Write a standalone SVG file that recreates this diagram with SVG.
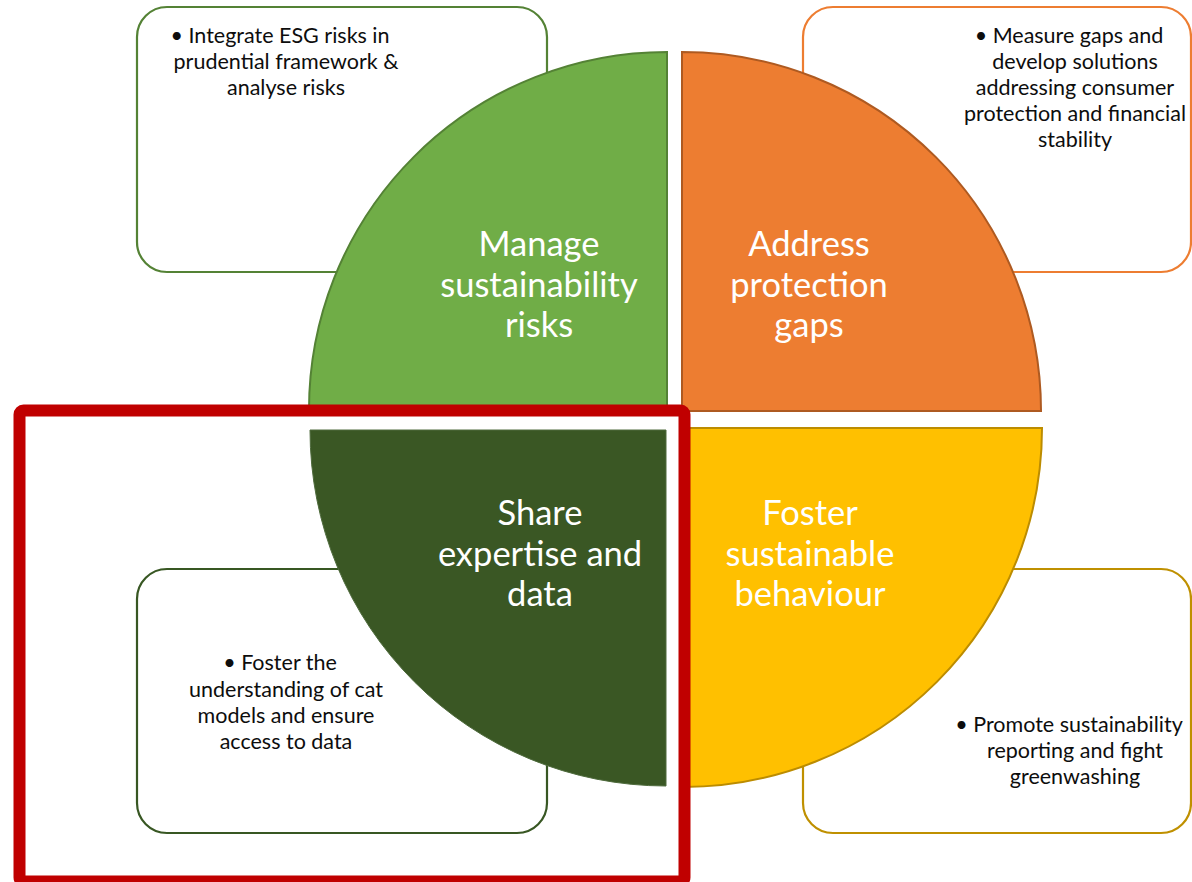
<svg xmlns="http://www.w3.org/2000/svg" width="1192" height="882" viewBox="0 0 1192 882">
  <style>
    .box { fill: #ffffff; stroke-width: 2.2; }
    .note { font-family: Lato, "Liberation Sans", sans-serif; font-size: 21.5px; fill: #0d0d0d; text-anchor: middle; }
    .label { font-family: Lato, "Liberation Sans", sans-serif; font-size: 34.5px; fill: #ffffff; text-anchor: middle; }
    .quad { stroke-width: 2; }
  </style>
  <rect width="1192" height="882" fill="#ffffff"/>

  <!-- Detail boxes (behind the wheel) -->
  <g id="box-risks">
    <rect class="box" x="137" y="7" width="410" height="265" rx="30" stroke="#548235"/>
    <text class="note"><tspan x="280" y="43">• Integrate ESG risks in</tspan><tspan x="286" y="69">prudential framework &amp;</tspan><tspan x="286" y="95">analyse risks</tspan></text>
  </g>
  <g id="box-gaps">
    <rect class="box" x="803" y="7" width="388" height="265" rx="30" stroke="#ed7d31"/>
    <text class="note"><tspan x="1069" y="43">• Measure gaps and</tspan><tspan x="1075" y="69">develop solutions</tspan><tspan x="1075" y="95">addressing consumer</tspan><tspan x="1075" y="121">protection and financial</tspan><tspan x="1075" y="147">stability</tspan></text>
  </g>
  <g id="box-data">
    <rect class="box" x="137" y="569" width="410" height="264" rx="30" stroke="#385723"/>
    <text class="note"><tspan x="280" y="670">• Foster the</tspan><tspan x="286" y="697">understanding of cat</tspan><tspan x="286" y="723">models and ensure</tspan><tspan x="286" y="749">access to data</tspan></text>
  </g>
  <g id="box-behaviour">
    <rect class="box" x="803" y="569" width="388" height="264" rx="30" stroke="#bf9000"/>
    <text class="note"><tspan x="1069" y="732">• Promote sustainability</tspan><tspan x="1075" y="758">reporting and fight</tspan><tspan x="1075" y="784">greenwashing</tspan></text>
  </g>

  <!-- Wheel quadrants -->
  <g id="q-manage">
    <path class="quad" d="M667,410 L309,410 A358,358 0 0 1 667,52 Z" fill="#70ad47" stroke="#548235"/>
    <text class="label"><tspan x="539" y="256">Manage</tspan><tspan x="539" y="297">sustainability</tspan><tspan x="539" y="337">risks</tspan></text>
  </g>
  <g id="q-address">
    <path class="quad" d="M682,411 L682,52 A359,359 0 0 1 1041,411 Z" fill="#ed7d31" stroke="#ae5a21"/>
    <text class="label"><tspan x="809" y="256">Address</tspan><tspan x="809" y="297">protection</tspan><tspan x="809" y="337">gaps</tspan></text>
  </g>
  <g id="q-foster">
    <path class="quad" d="M683,428 L1042,428 A359,359 0 0 1 683,787 Z" fill="#ffc000" stroke="#bc8c00"/>
    <text class="label"><tspan x="810" y="525">Foster</tspan><tspan x="810" y="566">sustainable</tspan><tspan x="810" y="606">behaviour</tspan></text>
  </g>
  <g id="q-share">
    <path d="M666,430 L666,786 A356,356 0 0 1 310,430 Z" fill="#3a5724" stroke="#4f6b3d" stroke-width="1"/>
    <text class="label"><tspan x="540" y="525">Share</tspan><tspan x="540" y="566">expertise and</tspan><tspan x="540" y="606">data</tspan></text>
  </g>

  <!-- Highlight frame -->
  <g id="highlight">
    <rect x="19.5" y="410.5" width="665" height="471" rx="4" fill="none" stroke="#c00000" stroke-width="12"/>
  </g>
</svg>
